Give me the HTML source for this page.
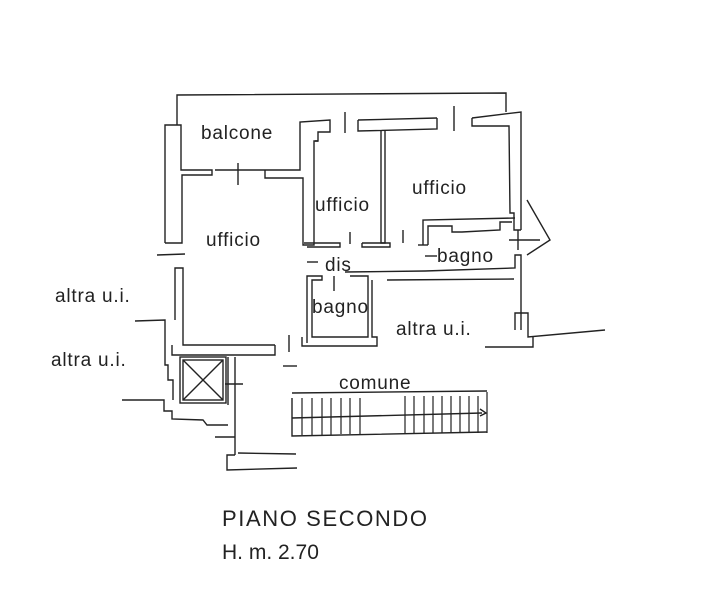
<!DOCTYPE html>
<html><head><meta charset="utf-8"><style>
html,body{margin:0;padding:0;background:#fff;width:716px;height:600px;overflow:hidden}
svg{display:block}
text{font-family:"Liberation Sans",sans-serif;fill:#222}
</style></head><body>
<svg width="716" height="600" viewBox="0 0 716 600" xmlns="http://www.w3.org/2000/svg">
<g fill="none" stroke="#222" stroke-width="1.4">
<polyline points="177,125 177,95 506,93 506,112"/>
<polyline points="165,243 165,125 181,125 181,170 212,170 212,175 182,175 182,243 165,243"/>
<polyline points="215,170 265,170"/>
<polyline points="265,170 300,170 300,122 330,120 330,132 318,132 318,141 315,141"/>
<polyline points="265,170 265,178 303,178 303,245 314,245 314,141 318,141"/>
<polyline points="358,120 437,118"/>
<polyline points="358,120 358,131 437,129 437,118"/>
<polyline points="472,118 521,112 521,230"/>
<polyline points="472,118 472,126 509,126 510,213 514,213 514,230 521,230"/>
<polyline points="381,131 381,243 385,243 385,131"/>
<polyline points="304,243 340,243 340,247 307,247"/>
<polyline points="362,243 390,243 390,247 362,247 362,243"/>
<polyline points="423,245 423,220 515,218"/>
<polyline points="428,245 428,226 452,226 452,232 462,232 500,230 500,222 512,222"/>
<polyline points="418,245 428,245"/>
<polyline points="345,272 425,271 515,268 515,255 521,255 521,330"/>
<polyline points="387,280 514,279"/>
<polyline points="527,200 550,240 527,255"/>
<line x1="509" y1="240" x2="540" y2="240"/>
<line x1="518" y1="230" x2="518" y2="250"/>
<polyline points="307,343 307,276 322,276 322,280 312,280 312,337 368,337 368,276 350,276"/>
<polyline points="302,337 302,346 377,346 377,337 372,337 372,280"/>
<polyline points="515,330 515,313 528,313 528,337 605,330"/>
<polyline points="485,347 533,347 533,337"/>
<polyline points="175,320 175,268 183,268 183,345 275,345"/>
<polyline points="135,321 165,320 165,365 168,365 168,380 173,380 173,400"/>
<polyline points="172,345 172,355 275,355 275,345"/>
<polyline points="122,400 164,400 164,411 172,411 172,419 203,420 207,425 228,425"/>
<rect x="180" y="357" width="46" height="46"/>
<rect x="183" y="360" width="40" height="40"/>
<line x1="183" y1="360" x2="223" y2="400"/><line x1="223" y1="360" x2="183" y2="400"/>
<polyline points="228,357 228,405"/><polyline points="235,357 235,455"/>
<line x1="225" y1="384" x2="243" y2="384"/>
<polyline points="215,437 235,437"/>
<polyline points="235,455 227,455 227,470 297,468"/>
<polyline points="238,453 296,454"/>
<line x1="238" y1="163" x2="238" y2="185"/>
<line x1="345" y1="112" x2="345" y2="133"/>
<line x1="454" y1="106" x2="454" y2="131"/>
<line x1="350" y1="232" x2="350" y2="244"/>
<line x1="403" y1="230" x2="403" y2="243"/>
<line x1="307" y1="262" x2="318" y2="262"/>
<line x1="334" y1="276" x2="334" y2="291"/>
<line x1="425" y1="256" x2="437" y2="256"/>
<line x1="289" y1="335" x2="289" y2="352"/>
<line x1="157" y1="255" x2="185" y2="254"/>
<line x1="283" y1="366" x2="297" y2="366"/>
<polyline points="292,398 292,436 487,432"/>
<line x1="292" y1="393" x2="487" y2="391"/>
<line x1="292" y1="418" x2="482" y2="413"/>
<polyline points="480,409 486,413 480,416"/>
</g>
<g stroke="#222" stroke-width="1.2">
<line x1="302" y1="398" x2="302" y2="435"/><line x1="312" y1="398" x2="312" y2="435"/>
<line x1="322" y1="398" x2="322" y2="435"/><line x1="331" y1="398" x2="331" y2="435"/>
<line x1="341" y1="398" x2="341" y2="434"/><line x1="350" y1="398" x2="350" y2="434"/>
<line x1="360" y1="398" x2="360" y2="434"/><line x1="405" y1="396" x2="405" y2="433"/>
<line x1="414" y1="396" x2="414" y2="433"/><line x1="424" y1="396" x2="424" y2="433"/>
<line x1="433" y1="396" x2="433" y2="433"/><line x1="442" y1="396" x2="442" y2="433"/>
<line x1="451" y1="396" x2="451" y2="433"/><line x1="460" y1="396" x2="460" y2="433"/>
<line x1="469" y1="396" x2="469" y2="433"/><line x1="478" y1="396" x2="478" y2="433"/>
<line x1="487" y1="392" x2="487" y2="433"/>
</g>
<g font-size="19" letter-spacing="0.8">
<text x="201" y="139">balcone</text>
<text x="315" y="211">ufficio</text>
<text x="412" y="194">ufficio</text>
<text x="206" y="246">ufficio</text>
<text x="325" y="271">dis</text>
<text x="437" y="262">bagno</text>
<text x="312" y="313">bagno</text>
<text x="396" y="335">altra u.i.</text>
<text x="55" y="302">altra u.i.</text>
<text x="51" y="366">altra u.i.</text>
<text x="339" y="389">comune</text>
</g>
<text x="222" y="526" font-size="22" letter-spacing="1.6">PIANO SECONDO</text>
<text x="222" y="559" font-size="21">H. m. 2.70</text>
</svg>
</body></html>
